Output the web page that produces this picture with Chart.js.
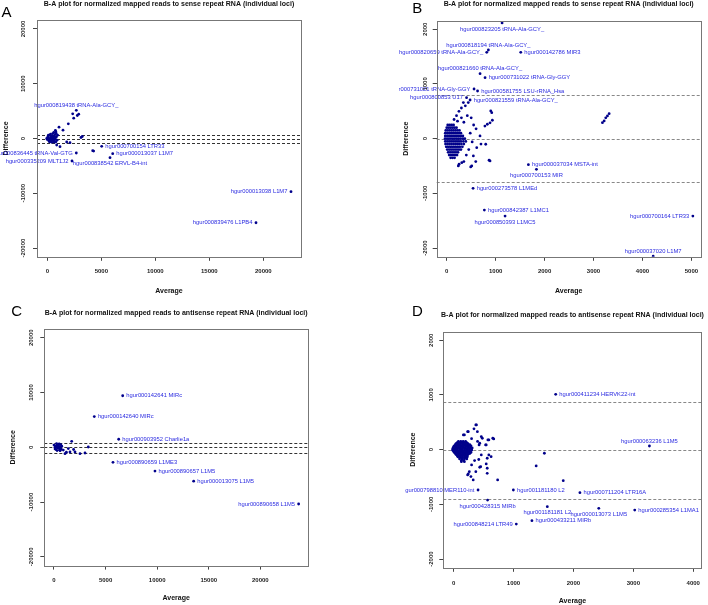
<!DOCTYPE html>
<html><head><meta charset="utf-8">
<script src="https://cdn.jsdelivr.net/npm/chart.js@4.4.0/dist/chart.umd.min.js"></script>
<style>
html,body{margin:0;padding:0;background:#fff;width:708px;height:605px;overflow:hidden;position:relative;}
canvas{position:absolute;}
</style></head><body>
<canvas id="cA"></canvas><canvas id="cB"></canvas><canvas id="cC"></canvas><canvas id="cD"></canvas>
<script>
// ---------- DATA ----------
const titleSense = 'B-A plot for normalized mapped reads to sense repeat RNA (individual loci)';
const titleAnti = 'B-A plot for normalized mapped reads to antisense repeat RNA (individual loci)';
const xAxisTitle = 'Average';
const yAxisTitle = 'Difference';

const xTicksAC = [0, 5000, 10000, 15000, 20000];
const yTicksAC = [-20000, -10000, 0, 10000, 20000];
const xTicksB = [0, 1000, 2000, 3000, 4000, 5000];
const xTicksD = [0, 1000, 2000, 3000, 4000];
const yTicksBD = [-2000, -1000, 0, 1000, 2000];

const dashA = [600, 0, -790];
const dashB = [800, 0, -800];
const dashC = [860, 0, -970];
const dashD = [867, 0, -900];

// Panel A points [average, difference]
const ptsA = [
 [100,200],[200,-300],[300,100],[400,-100],[500,300],[600,0],[250,600],[350,-500],[450,500],[550,-400],
 [650,400],[700,-200],[150,-100],[50,300],[300,800],[500,900],[700,700],[800,1200],[750,1500],[600,1100],
 [400,-700],[200,-600],[0,-200],[850,300],[900,-300],[800,-600],[650,-700],[100,600],[-50,0],[350,300],
 [450,-300],[250,-100],[550,200],[750,100],[620,-550],[820,900],[950,600],[150,-450],[400,350],[500,-150],
 [1083,2060],[1454,1515],[1945,2680],[3240,365],[3120,180],[870,-1190],[1176,-1500],[1796,-640],[2102,-770],
 [4204,-2230],[4290,-2300],[2352,4510],[2778,4200],[2908,4435],[2445,3705]
];
const labNamesA = ['hgur000819438 tRNA-Ala-GCY_','hgur000700154 LTR33','hgur000013037 L1M7','hgur000836445 tRNA-Val-GTG',
 'hgur000335209 MLT1J2','hgur000838542 ERVL-B4-int','hgur000013038 L1M7','hgur000839476 L1PB4'];
const labXA = [2685, 5037, 6056, 2685, 2287, 5806, 22565, 19324];
const labYA = [5150, -1425, -2776, -2648, -4110, -3507, -9717, -15379];

// Panel B
const ptsB = [
 [20,250],[60,250],[100,250],[140,250],
 [0,200],[40,200],[80,200],[120,200],[160,200],[200,200],
 [-20,150],[20,150],[60,150],[100,150],[140,150],[180,150],[220,150],[260,150],
 [-30,100],[10,100],[50,100],[90,100],[130,100],[170,100],[210,100],[250,100],[290,100],
 [-30,50],[10,50],[50,50],[90,50],[130,50],[170,50],[210,50],[250,50],[290,50],[330,50],
 [-35,0],[5,0],[45,0],[85,0],[125,0],[165,0],[205,0],[245,0],[285,0],[330,0],[370,0],
 [-30,-50],[10,-50],[50,-50],[90,-50],[130,-50],[170,-50],[210,-50],[250,-50],[290,-50],[340,-50],[390,-50],
 [-25,-100],[15,-100],[55,-100],[95,-100],[135,-100],[175,-100],[215,-100],[255,-100],[300,-100],[350,-100],
 [-10,-150],[30,-150],[70,-150],[110,-150],[150,-150],[190,-150],[230,-150],[270,-150],[320,-150],
 [10,-200],[50,-200],[90,-200],[130,-200],[170,-200],[210,-200],[250,-200],[290,-200],
 [30,-250],[70,-250],[110,-250],[150,-250],[190,-250],[230,-250],
 [50,-300],[90,-300],[130,-300],[170,-300],[210,-300],
 [80,-350],[120,-350],[160,-350],
 [150,350],[200,420],[250,500],[300,560],[340,660],[380,600],[440,660],[220,320],[300,380],[350,300],
 [420,420],[500,380],[550,250],[600,180],[680,50],[780,230],[885,290],[920,475],[900,506],[933,336],
 [830,263],[480,100],[520,-60],[613,-165],[700,-100],[797,-102],[544,-316],[490,-517],[593,-420],[865,-395],
 [885,-408],[307,-439],[237,-499],[252,-468],[511,-499],[400,-300],[350,-420],[450,-200],
 [3182,292],[3217,324],[3284,415],[3319,457],[3250,380]
];
const labNamesB = ['hgur000823205 tRNA-Ala-GCY_','hgur000818194 tRNA-Ala-GCY_','hgur000820659 tRNA-Ala-GCY_','hgur000142786 MIR3',
 'hgur000821660 tRNA-Ala-GCY_','hgur000731022 tRNA-Gly-GGY','hgur000731021 tRNA-Gly-GGY','hgur000581755 LSU-rRNA_Hsa',
 'hgur000800853 U17','hgur000821559 tRNA-Ala-GCY_','hgur000037034 MSTA-int','hgur000700153 MIR','hgur000273578 L1MEd',
 'hgur000842387 L1MC1','hgur000850393 L1MC5','hgur000700164 LTR33','hgur000037020 L1M7'];
const labXB = [1131, 851, 818, 1513, 681, 783, 558, 630, 405, 477, 1669, 1833, 538, 769, 1192, 5030, 4219];
const labYB = [2115, 1621, 1579, 1579, 1188, 1115, 908, 871, 749, 707, -476, -561, -908, -1305, -1415, -1415, -2150];

// Panel C
const ptsC = [
 [100,0],[300,300],[500,-200],[200,-400],[400,500],[600,100],[700,-300],[0,400],[300,-600],[500,600],
 [650,500],[150,200],[350,-100],[550,-500],[250,650],[450,200],[100,-300],[600,-600],[750,200],[200,100],
 [1715,1100],[3324,55],[1386,-240],[581,-550],[1066,-1160],[1550,-860],[2035,-860],[2519,-1160],[3004,-1040],
 [1900,-400],[1200,-900],[900,-500]
];
const labNamesC = ['hgur000142641 MIRc','hgur000142640 MIRc','hgur000903952 Charlie1a','hgur000890659 L1ME3',
 'hgur000890657 L1M5','hgur000013075 L1M5','hgur000890658 L1M5'];
const labXC = [6657, 3905, 6270, 5717, 9787, 13537, 23711];
const labYC = [9413, 5615, 1468, -2752, -4349, -6183, -10349];

// Panel D
const ptsD = [
 [80,150],[120,150],[160,150],[200,150],
 [60,130],[100,130],[140,130],[180,130],[220,130],
 [40,110],[80,110],[120,110],[160,110],[200,110],[240,110],
 [30,90],[70,90],[110,90],[150,90],[190,90],[230,90],[270,90],
 [10,70],[50,70],[90,70],[130,70],[170,70],[210,70],[250,70],[290,70],
 [0,50],[40,50],[80,50],[120,50],[160,50],[200,50],[240,50],[280,50],
 [-10,30],[30,30],[70,30],[110,30],[150,30],[190,30],[230,30],[270,30],[310,30],
 [-15,10],[20,10],[60,10],[100,10],[140,10],[180,10],[220,10],[260,10],[300,10],
 [-15,-10],[25,-10],[65,-10],[105,-10],[145,-10],[185,-10],[225,-10],[265,-10],[300,-10],
 [0,-30],[40,-30],[80,-30],[120,-30],[160,-30],[200,-30],[240,-30],[280,-30],
 [10,-50],[50,-50],[90,-50],[130,-50],[170,-50],[210,-50],[250,-50],[290,-50],
 [30,-70],[70,-70],[110,-70],[150,-70],[190,-70],[230,-70],[270,-70],
 [40,-90],[80,-90],[120,-90],[160,-90],[200,-90],[240,-90],
 [60,-110],[100,-110],[140,-110],[180,-110],[220,-110],
 [70,-130],[110,-130],[150,-130],[190,-130],[230,-130],
 [100,-150],[140,-150],[180,-150],[210,-150],
 [100,-170],[140,-170],[180,-170],[220,-170],[130,-200],[170,-200],[130,-220],[180,-220],
 [371,452],[397,329],[234,329],[180,269],[670,196],[588,177],[479,208],[425,86],[534,86],[588,-97],
 [561,-157],[452,-311],[561,-340],[371,-402],[262,-402],[234,-462],[289,-493],[1515,-66],[1378,-298],[1830,-567],
 [735,-554],[561,-432],[436,-322],[327,-554],[245,-444],[626,-128],[544,-261],[462,-97],[381,452],[245,329],
 [163,269],[462,238],[572,177],[654,208],[436,117],[544,86],[340,380],[300,200],[400,150],[350,-200],
 [420,-180],[300,-280]
];
const labNamesD = ['hgur000411234 HERVK22-int','hgur000063236 L1M5','hgur000798810 MER110-int','hgur001181180 L2',
 'hgur000711204 LTR16A','hgur000428315 MIRb','hgur001181181 L2','hgur000013073 L1M5','hgur000285354 L1MA1',
 'hgur000433211 MIRb','hgur000848214 LTR49'];
const labXD = [1704, 3268, 408, 997, 2108, 567, 1564, 2423, 3023, 1307, 1046];
const labYD = [1012, 67, -738, -738, -787, -921, -1043, -1073, -1104, -1299, -1360];

// ---------- LAYOUT / STYLE ----------
const FONT = "'Liberation Sans', Arial, Helvetica, sans-serif";
const sideA = ['above','right','right','left','left','below','left','left'];
const sideB = ['below','above','left','right','above','right','left','right','left','right','right','below','right','right','below','left','above'];
const sideC = ['right','right','right','right','right','right','left'];
const sideD = ['right','above','left','right','right','below','below','below','right','right','left'];

function panelPlugin(p) {
  return {
    id: 'panel' + p.letter,
    beforeDatasetsDraw(chart) {
      const {ctx, chartArea: a, scales: {y}} = chart;
      ctx.save();
      ctx.strokeStyle = p.dashColor; ctx.lineWidth = 1; ctx.setLineDash([3, 2]);
      p.dash.forEach(v => {
        const py = Math.round(y.getPixelForValue(v)) + 0.5;
        ctx.beginPath(); ctx.moveTo(a.left, py); ctx.lineTo(a.right, py); ctx.stroke();
      });
      ctx.restore();
    },
    afterDatasetsDraw(chart) {
      const {ctx, scales: {x, y}} = chart;
      ctx.save();
      ctx.fillStyle = '#2a2ae0';
      ctx.font = '5.8px ' + FONT;
      p.names.forEach((n, i) => {
        const px = x.getPixelForValue(p.lx[i]), py = y.getPixelForValue(p.ly[i]);
        const s = p.sides[i];
        ctx.textBaseline = 'middle';
        if (s === 'right') { ctx.textAlign = 'left'; ctx.fillText(n, px + 3.6, py); }
        else if (s === 'left') { ctx.textAlign = 'right'; ctx.fillText(n, px - 3.6, py); }
        else if (s === 'above') { ctx.textAlign = 'center'; ctx.fillText(n, px, py - 5); }
        else { ctx.textAlign = 'center'; ctx.fillText(n, px, py + 6); }
      });
      ctx.restore();
    },
    afterDraw(chart) {
      const {ctx, chartArea: a} = chart;
      ctx.save();
      ctx.strokeStyle = '#777'; ctx.lineWidth = 1; ctx.setLineDash([]);
      ctx.strokeRect(Math.round(a.left) + 0.5, Math.round(a.top) + 0.5, Math.round(a.right - a.left), Math.round(a.bottom - a.top));
      ctx.fillStyle = '#111';
      ctx.font = 'bold 7px ' + FONT;
      const w7 = ctx.measureText(p.title).width;
      const fs = 7 * p.titleW / w7;
      ctx.font = 'bold ' + fs.toFixed(2) + 'px ' + FONT;
      ctx.textAlign = 'center'; ctx.textBaseline = 'middle';
      ctx.fillText(p.title, (a.left + a.right) / 2, a.top - 16);
      ctx.fillStyle = '#000';
      ctx.font = '15px ' + FONT;
      ctx.fillText(p.letter, p.letterPos[0] - p.box[0], p.letterPos[1] - p.box[1]);
      ctx.restore();
    }
  };
}

function makeChart(id, p) {
  const cv = document.getElementById(id);
  const [cx, cy, cw, ch] = p.box;
  cv.style.left = cx + 'px'; cv.style.top = cy + 'px';
  cv.width = cw; cv.height = ch;
  const [L, T, R, B] = p.area;
  const yW = L - cx, xH = cy + ch - B;
  const all = p.pts.map(([x, y]) => ({x, y})).concat(p.lx.map((x, i) => ({x, y: p.ly[i]})));
  const tickFont = {family: FONT, size: 6, weight: 'bold'};
  const titleFont = {family: FONT, size: 7, weight: 'bold'};
  new Chart(cv, {
    type: 'scatter',
    data: {datasets: [{data: all, pointRadius: 1.4, pointHoverRadius: 1.4, pointBackgroundColor: '#00008b', pointBorderWidth: 0, borderWidth: 0}]},
    options: {
      responsive: false, animation: false, devicePixelRatio: 1,
      layout: {padding: {left: 0, top: T - cy, right: cx + cw - R, bottom: 0}},
      plugins: {legend: {display: false}, tooltip: {enabled: false}, title: {display: false}},
      scales: {
        x: {
          type: 'linear', min: p.xr[0], max: p.xr[1],
          afterBuildTicks: s => { s.ticks = p.xt.map(v => ({value: v})); },
          afterFit: s => { s.height = xH; },
          grid: {display: true, drawOnChartArea: false, drawTicks: true, tickLength: 4, color: '#444'},
          border: {display: false},
          ticks: {padding: p.xTickPad, font: tickFont, color: '#222', maxRotation: 0, minRotation: 0, autoSkip: false, callback: v => String(v)},
          title: {display: true, text: xAxisTitle, font: titleFont, color: '#111', padding: {top: 0, bottom: p.xTitlePad}}
        },
        y: {
          type: 'linear', min: p.yr[0], max: p.yr[1],
          afterBuildTicks: s => { s.ticks = p.yt.map(v => ({value: v})); },
          afterFit: s => { s.width = yW; },
          grid: {display: true, drawOnChartArea: false, drawTicks: true, tickLength: 4, color: '#444'},
          border: {display: false},
          ticks: {padding: 0, font: tickFont, color: '#222', minRotation: 90, maxRotation: 90, crossAlign: 'center', autoSkip: false, callback: v => String(v)},
          title: {display: true, text: yAxisTitle, font: titleFont, color: '#111', padding: {top: p.yTitlePad, bottom: 0}}
        }
      }
    },
    plugins: [panelPlugin(p)]
  });
}

makeChart('cA', {letter: 'A', letterPos: [6.5, 12.8], box: [0, 0, 360, 300], area: [37, 20.2, 301, 256.8],
  xr: [-954, 23490], yr: [-21600, 21600], xt: xTicksAC, yt: yTicksAC, dash: dashA, dashColor: '#333',
  title: titleSense, titleW: 251, pts: ptsA, names: labNamesA, lx: labXA, ly: labYA, sides: sideA,
  xTickPad: 7, xTitlePad: 5, yTitlePad: 1.8});
makeChart('cB', {letter: 'B', letterPos: [417.3, 8.7], box: [399, 0, 309, 300], area: [436.7, 20.5, 700.7, 256.8],
  xr: [-205, 5190], yr: [-2160, 2160], xt: xTicksB, yt: yTicksBD, dash: dashB, dashColor: '#888',
  title: titleSense, titleW: 250, pts: ptsB, names: labNamesB, lx: labXB, ly: labYB, sides: sideB,
  xTickPad: 7, xTitlePad: 5, yTitlePad: 2.5});
makeChart('cC', {letter: 'C', letterPos: [16.7, 312], box: [0, 300, 360, 305], area: [44.3, 329, 308, 565.6],
  xr: [-940, 24620], yr: [-21600, 21600], xt: xTicksAC, yt: yTicksAC, dash: dashC, dashColor: '#333',
  title: titleAnti, titleW: 263, pts: ptsC, names: labNamesC, lx: labXC, ly: labYC, sides: sideC,
  xTickPad: 7, xTitlePad: 2.5, yTitlePad: 9.1});
makeChart('cD', {letter: 'D', letterPos: [417.5, 312], box: [405, 300, 303, 305], area: [443.3, 331.5, 707.3, 567.8],
  xr: [-172, 4140], yr: [-2160, 2160], xt: xTicksD, yt: yTicksBD, dash: dashD, dashColor: '#888',
  title: titleAnti, titleW: 263, pts: ptsD, names: labNamesD, lx: labXD, ly: labYD, sides: sideD,
  xTickPad: 8, xTitlePad: 0, yTitlePad: 4.1});
</script>
</body></html>
